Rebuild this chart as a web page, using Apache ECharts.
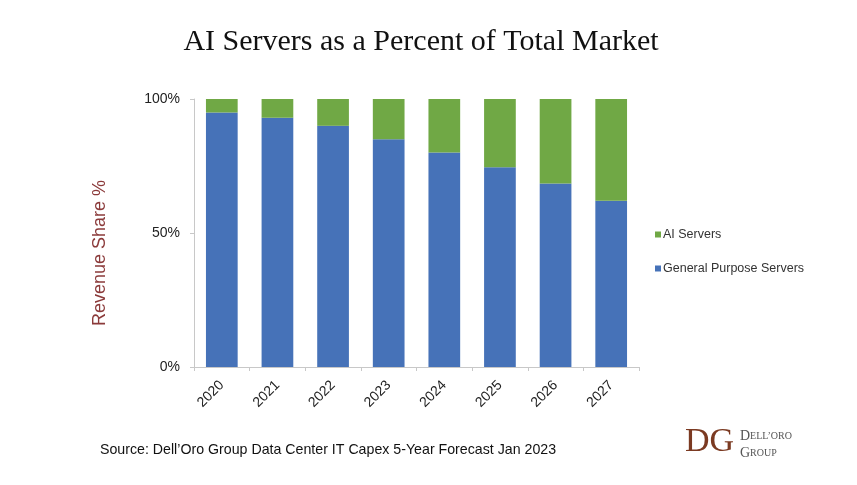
<!DOCTYPE html>
<html lang="en">
<head>
    <meta charset="UTF-8">
    <title>AI Servers as a Percent of Total Market</title>
    <script src="https://cdn.jsdelivr.net/npm/echarts@6/dist/echarts.min.js"></script>
    <style>
        html, body { margin: 0; padding: 0; background: #fff; }
        #chart { width: 857px; height: 485px; }
    </style>
</head>
<body>
    <div id="chart"></div>
    <script>
        // data (percent of revenue)
        const years = ['2020', '2021', '2022', '2023', '2024', '2025', '2026', '2027'];
        const generalPurpose = [95, 93, 90, 85, 80, 74.5, 68.5, 62];
        const aiServers = generalPurpose.map(v => +(100 - v).toFixed(1));  // stacked to 100%
        const yTicks = [0, 50, 100];

        const BLUE = '#4672b8';
        const GREEN = '#70a845';
        const AXIS = '#c8c8c8';

        const chart = echarts.init(document.getElementById('chart'), null, { renderer: 'canvas' });
        chart.setOption({
            animation: false,
            title: {
                text: 'AI Servers as a Percent of Total Market',
                left: 416,
                textAlign: 'center',
                top: 22,
                textStyle: {
                    fontFamily: 'Liberation Serif',
                    fontSize: 30,
                    fontWeight: 'normal',
                    color: '#111'
                }
            },
            legend: {
                orient: 'vertical',
                left: 650,
                top: 223,
                itemGap: 21,
                itemWidth: 6,
                itemHeight: 6,
                icon: 'rect',
                data: ['AI Servers', 'General Purpose Servers'],
                textStyle: { fontFamily: 'Liberation Sans', fontSize: 12.5, color: '#333', padding: [0, 0, 0, -3] }
            },
            grid: { left: 194, right: 218, top: 99, bottom: 118 },
            xAxis: {
                type: 'category',
                data: years,
                axisLine: { lineStyle: { color: AXIS, width: 1 } },
                axisTick: { show: true, length: 4, lineStyle: { color: AXIS } },
                axisLabel: {
                    rotate: 45,
                    margin: 16,
                    fontFamily: 'Liberation Sans',
                    fontSize: 14,
                    color: '#222'
                }
            },
            yAxis: {
                type: 'value',
                min: yTicks[0],
                max: yTicks[yTicks.length - 1],
                interval: 50,
                axisLine: { show: true, lineStyle: { color: AXIS } },
                axisTick: { show: true, length: 4, lineStyle: { color: AXIS } },
                splitLine: { show: false },
                axisLabel: {
                    formatter: '{value}%',
                    margin: 14,
                    fontFamily: 'Liberation Sans',
                    fontSize: 14,
                    color: '#222'
                }
            },
            series: [{
                name: 'General Purpose Servers',
                type: 'bar',
                stack: 'share',
                data: generalPurpose,
                barCategoryGap: '43%',
                itemStyle: { color: BLUE }
            }, {
                name: 'AI Servers',
                type: 'bar',
                stack: 'share',
                data: aiServers,
                itemStyle: { color: GREEN }
            }],
            graphic: [{
                // y-axis title, sits a little below the axis middle in the original
                type: 'text',
                x: 100,
                y: 253,
                rotation: Math.PI / 2,
                style: {
                    text: 'Revenue Share %',
                    font: '18px "Liberation Sans"',
                    fill: '#8b3a3a',
                    align: 'center',
                    verticalAlign: 'middle'
                }
            }, {
                type: 'text',
                left: 100,
                top: 443,
                style: {
                    text: 'Source: Dell\u2019Oro Group Data Center IT Capex 5-Year Forecast Jan 2023',
                    font: '14.2px "Liberation Sans"',
                    fill: '#111'
                }
            }, {
                type: 'text',
                left: 685,
                top: 425,
                style: {
                    text: 'DG',
                    font: '34px "Liberation Serif"',
                    fill: '#7b3a22'
                }
            }, {
                type: 'text',
                left: 740,
                top: 429,
                style: {
                    text: '{a|D}{b|ELL\u2019ORO}\n{a|G}{b|ROUP}',
                    rich: {
                        a: { font: '14px "Liberation Serif"', fill: '#555', lineHeight: 17 },
                        b: { font: '10px "Liberation Serif"', fill: '#555', lineHeight: 17 }
                    }
                }
            }]
        });
    </script>
</body>
</html>
